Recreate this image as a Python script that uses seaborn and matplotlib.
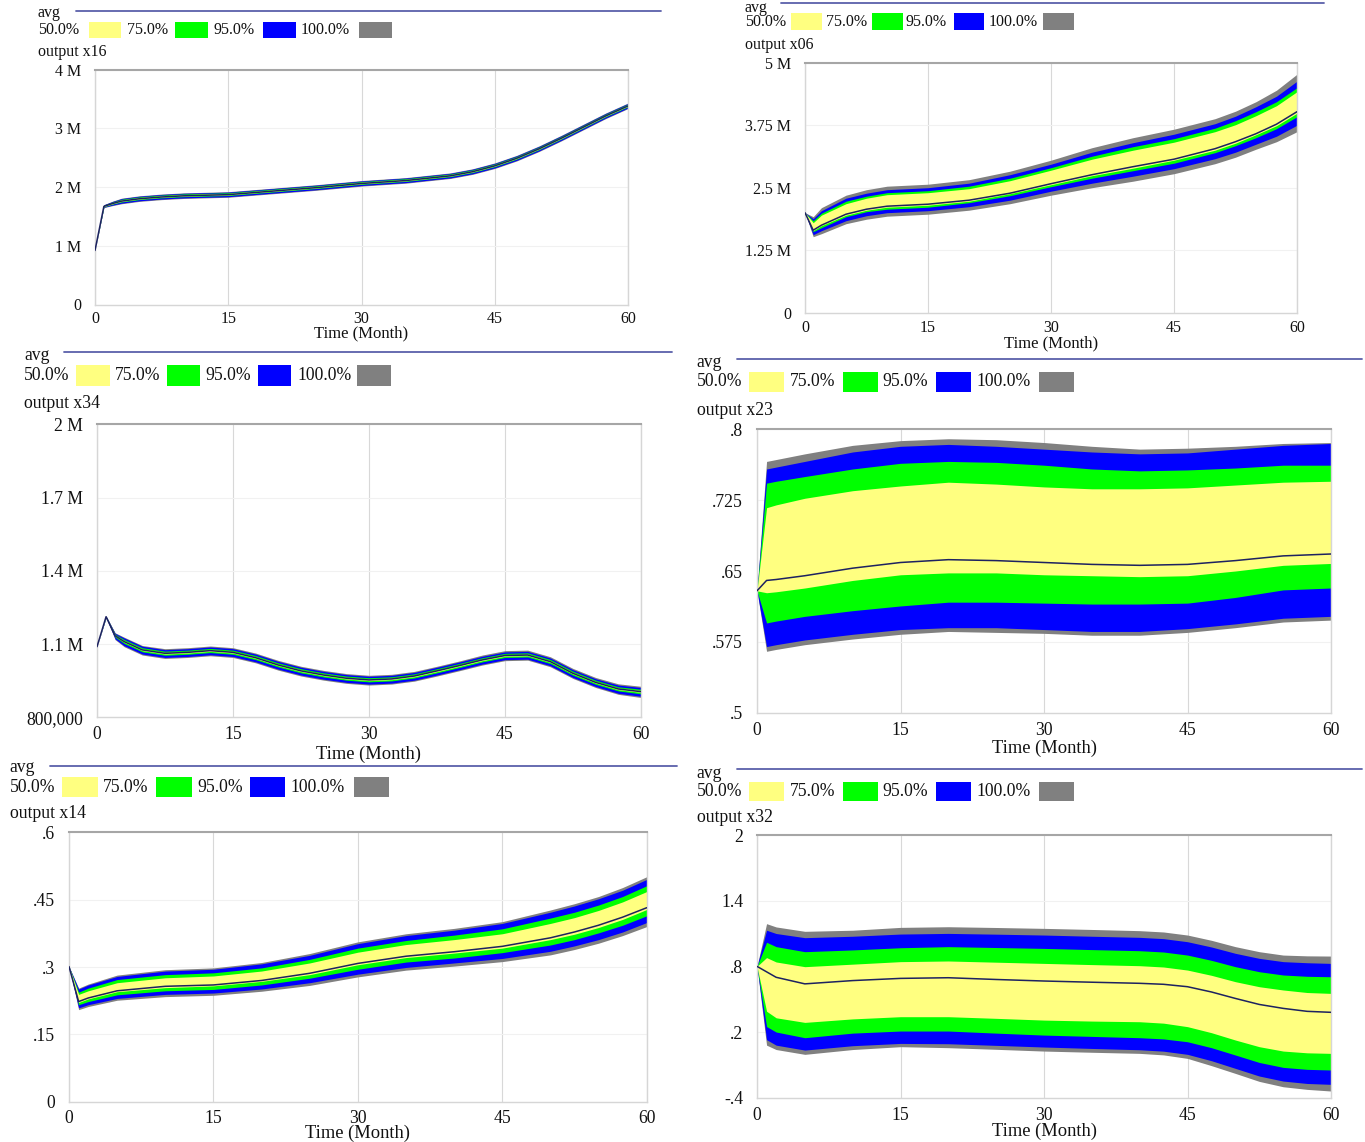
import matplotlib
matplotlib.use("Agg")
import matplotlib.pyplot as plt
from matplotlib.patches import Rectangle
from matplotlib.lines import Line2D
import seaborn as sns
import pandas as pd

# ---------------- data ----------------
x_ticks = [0, 15, 30, 45, 60]
x_tick_labels = ["0", "15", "30", "45", "60"]
band_names = ["50.0%", "75.0%", "95.0%", "100.0%"]

# output x16 (millions)
x16_t     = [0, 1, 2, 3, 5, 7.5, 10, 15, 20, 25, 30, 35, 37.5, 40, 42.5, 45, 47.5, 50, 52.5, 55, 57.5, 60]
x16_avg   = [0.92, 1.67, 1.72, 1.76, 1.80, 1.83, 1.85, 1.87, 1.93, 1.99, 2.06, 2.11, 2.15, 2.19, 2.26, 2.36, 2.49, 2.65, 2.83, 3.02, 3.21, 3.38]
x16_hi100 = [0.92, 1.70, 1.76, 1.81, 1.85, 1.88, 1.90, 1.92, 1.98, 2.04, 2.11, 2.16, 2.20, 2.24, 2.31, 2.41, 2.54, 2.70, 2.88, 3.07, 3.26, 3.43]
x16_hi95  = [0.92, 1.697, 1.755, 1.803, 1.843, 1.873, 1.893, 1.913, 1.973, 2.033, 2.103, 2.153, 2.193, 2.233, 2.303, 2.403, 2.533, 2.693, 2.873, 3.063, 3.253, 3.423]
x16_hi75  = [0.92, 1.69, 1.746, 1.792, 1.832, 1.862, 1.882, 1.902, 1.962, 2.022, 2.092, 2.142, 2.182, 2.222, 2.292, 2.392, 2.522, 2.682, 2.862, 3.052, 3.242, 3.412]
x16_hi50  = [0.92, 1.682, 1.736, 1.78, 1.82, 1.85, 1.87, 1.89, 1.95, 2.01, 2.08, 2.13, 2.17, 2.21, 2.28, 2.38, 2.51, 2.67, 2.85, 3.04, 3.23, 3.40]
x16_lo50  = [0.92, 1.667, 1.715, 1.755, 1.795, 1.825, 1.845, 1.865, 1.925, 1.985, 2.055, 2.105, 2.145, 2.185, 2.255, 2.355, 2.485, 2.645, 2.825, 3.015, 3.205, 3.375]
x16_lo75  = [0.92, 1.662, 1.708, 1.745, 1.785, 1.815, 1.835, 1.855, 1.915, 1.975, 2.045, 2.095, 2.135, 2.175, 2.245, 2.345, 2.475, 2.635, 2.815, 3.005, 3.195, 3.365]
x16_lo95  = [0.92, 1.655, 1.692, 1.725, 1.765, 1.795, 1.815, 1.835, 1.895, 1.955, 2.025, 2.075, 2.115, 2.155, 2.225, 2.325, 2.455, 2.615, 2.795, 2.985, 3.175, 3.345]
x16_lo100 = [0.92, 1.65, 1.684, 1.715, 1.755, 1.785, 1.805, 1.825, 1.885, 1.945, 2.015, 2.065, 2.105, 2.145, 2.215, 2.315, 2.445, 2.605, 2.785, 2.975, 3.165, 3.335]
x16_yticks = [0, 1, 2, 3, 4]
x16_ylabels = ["0", "1 M", "2 M", "3 M", "4 M"]

# output x06 (millions)
x06_t     = [0, 1, 2, 5, 7.5, 10, 15, 20, 25, 30, 35, 40, 45, 50, 52.5, 55, 57.5, 60]
x06_hi100 = [2.00, 1.92, 2.10, 2.35, 2.46, 2.53, 2.57, 2.66, 2.83, 3.05, 3.30, 3.50, 3.67, 3.88, 4.03, 4.22, 4.45, 4.77]
x06_hi95  = [2.00, 1.88, 2.04, 2.29, 2.39, 2.46, 2.50, 2.59, 2.76, 2.97, 3.21, 3.40, 3.57, 3.78, 3.93, 4.12, 4.33, 4.63]
x06_hi75  = [2.00, 1.84, 1.99, 2.23, 2.33, 2.40, 2.44, 2.53, 2.69, 2.90, 3.13, 3.32, 3.48, 3.69, 3.84, 4.02, 4.22, 4.50]
x06_hi50  = [2.00, 1.80, 1.95, 2.18, 2.29, 2.36, 2.40, 2.48, 2.64, 2.85, 3.07, 3.25, 3.41, 3.62, 3.76, 3.94, 4.14, 4.42]
x06_avg   = [2.00, 1.65, 1.75, 1.97, 2.07, 2.13, 2.17, 2.25, 2.39, 2.58, 2.76, 2.92, 3.07, 3.28, 3.42, 3.58, 3.77, 4.02]
x06_lo50  = [2.00, 1.64, 1.74, 1.95, 2.05, 2.11, 2.15, 2.23, 2.38, 2.56, 2.74, 2.89, 3.05, 3.25, 3.39, 3.56, 3.74, 3.99]
x06_lo75  = [2.00, 1.62, 1.70, 1.92, 2.02, 2.07, 2.11, 2.20, 2.34, 2.52, 2.69, 2.84, 2.99, 3.20, 3.34, 3.50, 3.68, 3.92]
x06_lo95  = [2.00, 1.56, 1.64, 1.84, 1.94, 2.00, 2.04, 2.12, 2.25, 2.43, 2.59, 2.73, 2.88, 3.08, 3.21, 3.37, 3.53, 3.75]
x06_lo100 = [2.00, 1.52, 1.58, 1.78, 1.87, 1.93, 1.97, 2.05, 2.18, 2.35, 2.50, 2.63, 2.78, 2.98, 3.11, 3.27, 3.42, 3.62]
x06_yticks = [0, 1.25, 2.5, 3.75, 5]
x06_ylabels = ["0", "1.25 M", "2.5 M", "3.75 M", "5 M"]

# output x34 (millions)
x34_t     = [0, 1, 2, 3, 5, 7.5, 10, 12.5, 15, 17.5, 20, 22.5, 25, 27.5, 30, 32.5, 35, 37.5, 40, 42.5, 45, 47.5, 50, 52.5, 55, 57.5, 60]
x34_avg   = [1.089, 1.212, 1.134, 1.110, 1.076, 1.062, 1.066, 1.073, 1.066, 1.044, 1.014, 0.990, 0.973, 0.960, 0.953, 0.957, 0.969, 0.990, 1.012, 1.035, 1.053, 1.055, 1.028, 0.980, 0.943, 0.916, 0.905]
x34_hi100 = [1.089, 1.215, 1.146, 1.128, 1.094, 1.081, 1.085, 1.092, 1.085, 1.063, 1.033, 1.009, 0.992, 0.979, 0.972, 0.976, 0.988, 1.009, 1.031, 1.055, 1.073, 1.075, 1.048, 1.000, 0.963, 0.937, 0.927]
x34_hi95  = [1.089, 1.214, 1.144, 1.125, 1.091, 1.077, 1.081, 1.088, 1.081, 1.059, 1.029, 1.005, 0.988, 0.975, 0.968, 0.972, 0.984, 1.005, 1.027, 1.050, 1.068, 1.070, 1.043, 0.995, 0.958, 0.932, 0.922]
x34_hi75  = [1.089, 1.213, 1.140, 1.119, 1.085, 1.071, 1.075, 1.082, 1.075, 1.053, 1.023, 0.999, 0.982, 0.969, 0.962, 0.966, 0.978, 0.999, 1.021, 1.044, 1.062, 1.064, 1.037, 0.989, 0.952, 0.925, 0.915]
x34_hi50  = [1.089, 1.212, 1.137, 1.114, 1.080, 1.066, 1.070, 1.077, 1.070, 1.048, 1.018, 0.994, 0.977, 0.964, 0.957, 0.961, 0.973, 0.994, 1.016, 1.039, 1.057, 1.059, 1.032, 0.984, 0.947, 0.920, 0.910]
x34_lo50  = [1.089, 1.211, 1.132, 1.107, 1.073, 1.059, 1.063, 1.070, 1.063, 1.041, 1.011, 0.987, 0.970, 0.957, 0.950, 0.954, 0.966, 0.987, 1.009, 1.032, 1.050, 1.052, 1.025, 0.977, 0.940, 0.913, 0.902]
x34_lo75  = [1.089, 1.210, 1.128, 1.102, 1.068, 1.054, 1.058, 1.065, 1.058, 1.036, 1.006, 0.982, 0.965, 0.952, 0.945, 0.949, 0.961, 0.982, 1.004, 1.027, 1.045, 1.047, 1.020, 0.972, 0.935, 0.908, 0.896]
x34_lo95  = [1.089, 1.209, 1.121, 1.093, 1.059, 1.045, 1.049, 1.056, 1.049, 1.027, 0.997, 0.973, 0.956, 0.943, 0.936, 0.940, 0.952, 0.973, 0.995, 1.018, 1.036, 1.038, 1.011, 0.963, 0.926, 0.898, 0.886]
x34_lo100 = [1.089, 1.208, 1.118, 1.089, 1.055, 1.041, 1.045, 1.052, 1.045, 1.023, 0.993, 0.969, 0.952, 0.939, 0.932, 0.936, 0.948, 0.969, 0.991, 1.014, 1.032, 1.034, 1.007, 0.959, 0.922, 0.894, 0.881]
x34_yticks = [0.8, 1.1, 1.4, 1.7, 2.0]
x34_ylabels = ["800,000", "1.1 M", "1.4 M", "1.7 M", "2 M"]

# output x23
x23_t     = [0, 1, 2, 5, 10, 15, 20, 25, 30, 35, 40, 45, 50, 55, 60]
x23_hi100 = [.629, .766, .768, .774, .783, .788, .790, .789, .786, .782, .779, .780, .782, .785, .786]
x23_hi95  = [.629, .758, .760, .766, .776, .782, .784, .782, .779, .776, .774, .775, .779, .783, .785]
x23_hi75  = [.629, .743, .745, .750, .758, .764, .766, .765, .762, .758, .756, .757, .759, .762, .762]
x23_hi50  = [.629, .717, .720, .727, .735, .740, .744, .742, .739, .737, .737, .738, .741, .744, .745]
x23_avg   = [.629, .640, .641, .645, .653, .659, .662, .661, .659, .657, .656, .657, .661, .666, .668]
x23_lo50  = [.629, .627, .628, .632, .640, .646, .648, .648, .646, .645, .644, .645, .650, .656, .658]
x23_lo75  = [.629, .595, .597, .602, .608, .613, .617, .617, .616, .615, .615, .616, .622, .630, .632]
x23_lo95  = [.629, .570, .572, .577, .583, .588, .590, .590, .588, .586, .586, .589, .594, .600, .602]
x23_lo100 = [.629, .565, .567, .572, .578, .583, .586, .585, .584, .582, .582, .585, .590, .596, .598]
x23_yticks = [0.5, 0.575, 0.65, 0.725, 0.8]
x23_ylabels = [".5", ".575", ".65", ".725", ".8"]

# output x14
x14_t     = [0, 1, 2, 5, 10, 15, 20, 25, 30, 35, 40, 45, 50, 52.5, 55, 57.5, 60]
x14_hi100 = [.301, .253, .262, .282, .294, .298, .310, .330, .356, .374, .386, .401, .427, .441, .457, .477, .501]
x14_hi95  = [.301, .251, .260, .279, .291, .295, .307, .326, .352, .370, .382, .397, .422, .436, .452, .471, .495]
x14_hi75  = [.301, .244, .253, .272, .283, .287, .298, .317, .342, .359, .371, .385, .409, .422, .438, .457, .481]
x14_hi50  = [.301, .239, .247, .265, .276, .280, .291, .309, .333, .350, .361, .374, .397, .410, .426, .445, .468]
x14_avg   = [.301, .223, .231, .247, .257, .260, .270, .286, .308, .324, .334, .346, .365, .378, .393, .411, .432]
x14_lo50  = [.301, .221, .229, .245, .254, .258, .268, .283, .305, .321, .331, .342, .361, .373, .388, .406, .428]
x14_lo75  = [.301, .216, .223, .238, .247, .250, .260, .275, .295, .311, .320, .332, .349, .361, .376, .393, .414]
x14_lo95  = [.301, .209, .216, .230, .239, .242, .251, .265, .284, .299, .309, .319, .335, .347, .361, .378, .399]
x14_lo100 = [.301, .205, .212, .226, .234, .237, .246, .259, .278, .293, .302, .312, .327, .339, .353, .370, .390]
x14_yticks = [0, 0.15, 0.3, 0.45, 0.6]
x14_ylabels = ["0", ".15", ".3", ".45", ".6"]

# output x32
x32_t     = [0, 1, 2, 5, 10, 15, 20, 25, 30, 35, 40, 42.5, 45, 47.5, 50, 52.5, 55, 57.5, 60]
x32_hi100 = [.80, 1.19, 1.16, 1.12, 1.13, 1.156, 1.162, 1.155, 1.147, 1.137, 1.126, 1.114, 1.086, 1.038, .980, .934, .903, .896, .894]
x32_hi95  = [.80, 1.13, 1.10, 1.062, 1.075, 1.095, 1.101, 1.094, 1.086, 1.075, 1.065, 1.053, 1.025, .977, .919, .873, .843, .833, .827]
x32_hi75  = [.80, 1.02, .98, .934, .95, .970, .980, .972, .964, .953, .943, .931, .903, .855, .797, .751, .721, .709, .705]
x32_hi50  = [.80, .88, .84, .797, .82, .843, .849, .838, .827, .816, .806, .794, .766, .718, .660, .614, .584, .561, .553]
x32_avg   = [.80, .75, .70, .640, .67, .690, .696, .680, .666, .655, .645, .636, .614, .566, .507, .452, .416, .389, .380]
x32_lo50  = [.80, .39, .33, .288, .32, .340, .340, .325, .309, .300, .294, .281, .249, .194, .127, .066, .026, .010, .005]
x32_lo75  = [.80, .25, .20, .148, .19, .209, .209, .190, .172, .160, .148, .137, .111, .057, -.010, -.078, -.123, -.141, -.147]
x32_lo95  = [.80, .13, .08, .035, .075, .096, .093, .078, .063, .050, .038, .025, -.004, -.062, -.132, -.202, -.248, -.270, -.278]
x32_lo100 = [.80, .08, .04, -.004, .04, .066, .057, .042, .026, .015, .005, -.009, -.041, -.107, -.178, -.251, -.300, -.324, -.339]
x32_yticks = [-0.4, 0.2, 0.8, 1.4, 2.0]
x32_ylabels = ["-.4", ".2", ".8", "1.4", "2"]

# ---------------- style ----------------
sns.set_theme(style="white")
plt.rcParams["font.family"] = ["Liberation Serif", "DejaVu Serif"]

W, H = 1365, 1142
fig = plt.figure(figsize=(W / 100, H / 100), dpi=100)
fig.patch.set_facecolor("white")

C_YEL, C_GRN, C_BLU, C_GRY = "#ffff80", "#00ff00", "#0000ff", "#808080"
C_AVG = "#1d2260"
C_LEG = "#5a60aa"
TXT = "#111111"


def fx(x):
    return x / W


def fy(y):
    return 1 - y / H


def ftext(x, y, s, size, ha="left", va="center"):
    fig.text(fx(x), fy(y), s, fontsize=size, ha=ha, va=va, color=TXT)


def panel(box, t, bands, avg, yticks, ylabels, name, lay):
    x0, x1, ytop, ybot = box
    ax = fig.add_axes([fx(x0), fy(ybot), (x1 - x0) / W, (ybot - ytop) / H])
    ax.set_axisbelow(True)
    ax.grid(True, axis="x", color="#d8d8d8", lw=0.8)
    ax.grid(True, axis="y", color="#f1f1f1", lw=0.8)
    for (lo, hi), col in zip(bands, [C_GRY, C_BLU, C_GRN, C_YEL]):
        ax.fill_between(t, lo, hi, color=col, lw=0, zorder=2)
    df = pd.DataFrame({"Time": t, "avg": avg})
    sns.lineplot(data=df, x="Time", y="avg", ax=ax, color=C_AVG, lw=1.1, zorder=3)
    ax.set_xlim(0, 60)
    ax.set_ylim(yticks[0], yticks[-1])
    ax.set_xticks(x_ticks)
    ax.set_xticklabels(x_tick_labels)
    ax.set_yticks(yticks)
    ax.set_yticklabels(ylabels)
    ax.set_xlabel("")
    ax.set_ylabel("")
    fs = lay["fs"]
    ax.tick_params(axis="y", length=0, pad=lay["ypad"], labelsize=fs, colors=TXT)
    ax.tick_params(axis="x", length=0, pad=lay["xpad"], labelsize=fs, colors=TXT)
    for side in ["left", "bottom", "right"]:
        ax.spines[side].set_color("#d6d6d6")
        ax.spines[side].set_linewidth(1.0)
    ax.spines["top"].set_color("#a6a6a6")
    ax.spines["top"].set_linewidth(1.5)

    # legend block (Vensim style)
    ftext(lay["lx"], lay["avg_y"], "avg", fs)
    lx0, lx1, ly = lay["line"]
    fig.add_artist(Line2D([fx(lx0), fx(lx1)], [fy(ly), fy(ly)], color=C_LEG, lw=1.3))
    ftext(lay["lx"], lay["row_y"], band_names[0], fs)
    by0, by1 = lay["box_y"]
    for (bx0, bx1), col in zip(lay["boxes"], [C_YEL, C_GRN, C_BLU, C_GRY]):
        fig.add_artist(Rectangle((fx(bx0), fy(by1)), (bx1 - bx0) / W, (by1 - by0) / H,
                                 facecolor=col, edgecolor="none", transform=fig.transFigure))
    for lab, tx in zip(band_names[1:], lay["lab_x"]):
        ftext(tx, lay["row_y"], lab, fs)
    ftext(lay["lx"], lay["name_y"], name, fs)
    ftext((x0 + x1) / 2, lay["xl_y"], "Time (Month)", lay["xfs"], ha="center")
    return ax


# TL : output x16
panel((95, 628, 69.5, 304.5), x16_t,
      [(x16_lo100, x16_hi100), (x16_lo95, x16_hi95), (x16_lo75, x16_hi75), (x16_lo50, x16_hi50)],
      x16_avg, x16_yticks, x16_ylabels, "output x16",
      dict(fs=11.5, xfs=12, ypad=10, xpad=4.5, lx=38, avg_y=13, line=(76, 661, 10.5), row_y=30,
           box_y=(21.7, 38.3), boxes=[(88.6, 121), (175, 208), (263, 296), (359, 392)],
           lab_x=[126.6, 213, 301], name_y=52, xl_y=333))

# TR : output x06
panel((805, 1297, 62.7, 312.7), x06_t,
      [(x06_lo100, x06_hi100), (x06_lo95, x06_hi95), (x06_lo75, x06_hi75), (x06_lo50, x06_hi50)],
      x06_avg, x06_yticks, x06_ylabels, "output x06",
      dict(fs=11.5, xfs=12, ypad=10, xpad=5.5, lx=745, avg_y=8, line=(781, 1324, 2.7), row_y=21.7,
           box_y=(12.7, 30), boxes=[(791, 822), (872, 903), (954, 984), (1043, 1074)],
           lab_x=[826, 906, 989], name_y=45, xl_y=343))

# ML : output x34
panel((97, 641, 424.3, 717.3), x34_t,
      [(x34_lo100, x34_hi100), (x34_lo95, x34_hi95), (x34_lo75, x34_hi75), (x34_lo50, x34_hi50)],
      x34_avg, x34_yticks, x34_ylabels, "output x34",
      dict(fs=12.7, xfs=13.3, ypad=10, xpad=6.5, lx=24, avg_y=355, line=(64, 672, 351.7), row_y=375.7,
           box_y=(365, 385.7), boxes=[(76, 110), (167, 200), (258, 290.5), (357, 391)],
           lab_x=[115, 205, 297], name_y=404, xl_y=754))

# MR : output x23
panel((757, 1331, 429.3, 712.7), x23_t,
      [(x23_lo100, x23_hi100), (x23_lo95, x23_hi95), (x23_lo75, x23_hi75), (x23_lo50, x23_hi50)],
      x23_avg, x23_yticks, x23_ylabels, "output x23",
      dict(fs=12.7, xfs=13.3, ypad=10, xpad=6.5, lx=696.6, avg_y=363, line=(737, 1362, 359), row_y=381.7,
           box_y=(371.7, 392.3), boxes=[(748.7, 783.7), (842.8, 877.8), (936, 971), (1038.9, 1073.9)],
           lab_x=[789.4, 882, 976.7], name_y=410, xl_y=748))

# BL : output x14
panel((69, 646.7, 832.3, 1101.7), x14_t,
      [(x14_lo100, x14_hi100), (x14_lo95, x14_hi95), (x14_lo75, x14_hi75), (x14_lo50, x14_hi50)],
      x14_avg, x14_yticks, x14_ylabels, "output x14",
      dict(fs=12.7, xfs=13.3, ypad=10, xpad=6, lx=9.6, avg_y=768, line=(50, 677, 765.7), row_y=787.3,
           box_y=(776.7, 797.3), boxes=[(62, 98), (156, 191.6), (250, 285), (353.7, 388.5)],
           lab_x=[103, 197, 290.5], name_y=813.3, xl_y=1133))

# BR : output x32
panel((757, 1331, 835, 1097.7), x32_t,
      [(x32_lo100, x32_hi100), (x32_lo95, x32_hi95), (x32_lo75, x32_hi75), (x32_lo50, x32_hi50)],
      x32_avg, x32_yticks, x32_ylabels, "output x32",
      dict(fs=12.7, xfs=13.3, ypad=10, xpad=6.5, lx=696.6, avg_y=773, line=(737, 1362, 769), row_y=791.7,
           box_y=(781.7, 800.7), boxes=[(748.7, 783.7), (842.8, 877.8), (936, 971), (1038.9, 1073.9)],
           lab_x=[789.4, 882, 976.7], name_y=817.3, xl_y=1131.7))

fig.savefig("out.png", dpi=100, facecolor="white")
